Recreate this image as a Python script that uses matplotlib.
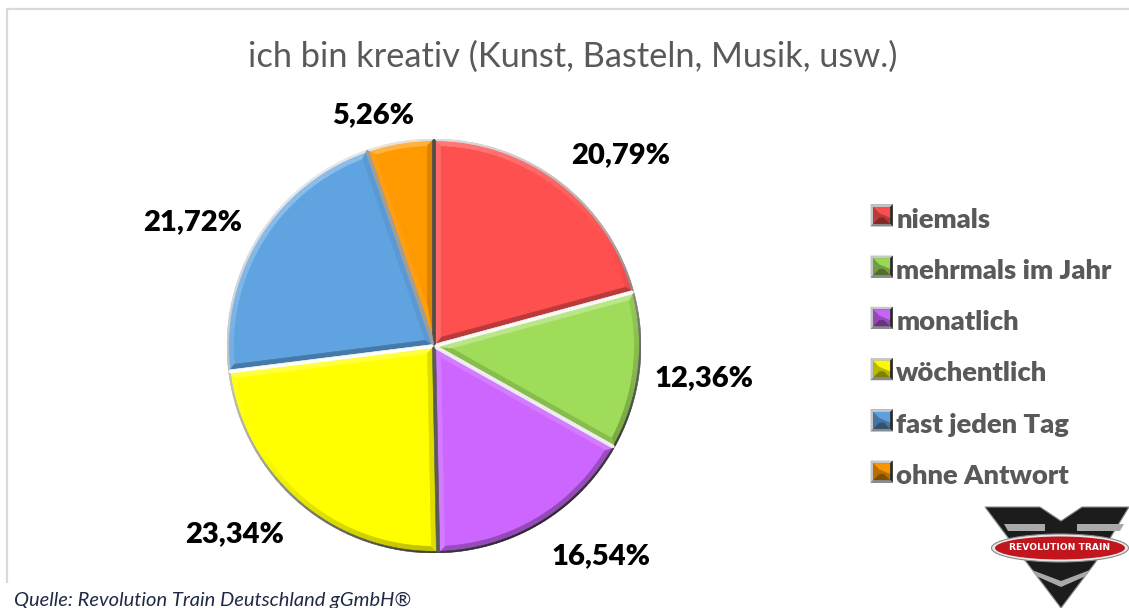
import math
import numpy as np
import matplotlib
matplotlib.use("Agg")
import matplotlib.pyplot as plt
from matplotlib.patches import Polygon, Ellipse
from matplotlib.legend_handler import HandlerBase
from matplotlib.colors import to_rgb

categories = ["niemals", "mehrmals im Jahr", "monatlich", "wöchentlich", "fast jeden Tag", "ohne Antwort"]
values = [20.79, 12.36, 16.54, 23.34, 21.72, 5.26]
value_labels = ["20,79%", "12,36%", "16,54%", "23,34%", "21,72%", "5,26%"]
colors = ["#FF5050", "#9FDC5A", "#CC66FF", "#FFFF00", "#5FA3E0", "#FF9900"]
title = "ich bin kreativ (Kunst, Basteln, Musik, usw.)"
source = "Quelle: Revolution Train Deutschland gGmbH®"

W, H = 1129, 608
label_pos = [(621, 155), (704, 378), (601, 556), (235, 534), (193, 222), (373, 115)]
CX, CY, R = 434, 346, 207
LIGHT = np.array([-0.5, 0.87])

plt.rcParams["font.family"] = ["Lato", "DejaVu Sans"]
fig = plt.figure(figsize=(W / 100, H / 100), dpi=100, facecolor="white")

bg = fig.add_axes([0, 0, 1, 1], zorder=0)
bg.set_xlim(0, W); bg.set_ylim(H, 0); bg.axis("off")
bg.plot([7, 7, W], [583, 9, 9], color="#D9D9D9", lw=1.6, solid_capstyle="butt")

ax = fig.add_axes([(CX - R) / W, (H - CY - R) / H, 2 * R / W, 2 * R / H], zorder=1)
wedges, _ = ax.pie(values, colors=colors, startangle=90, counterclock=False, radius=1,
                   wedgeprops=dict(linewidth=0))
ax.set_xlim(-1, 1); ax.set_ylim(-1, 1)
ax.set_aspect("equal")


def shade(col, n, k):
    s = float(np.dot(n, LIGHT)) * k
    c = np.array(to_rgb(col))
    return tuple(c + (1 - c) * s) if s > 0 else tuple(c * (1 + s))


def inset(t1, t2, w):
    half = math.radians(t2 - t1) / 2
    mid = math.radians(t1 + t2) / 2
    d = w / math.sin(half) if half < math.pi / 2 else w
    apex = np.array([math.cos(mid), math.sin(mid)]) * d
    delta = math.degrees(math.asin(min(w / (1 - w), .99)))
    angs = np.radians(np.linspace(t1 + delta, t2 - delta, 37))
    arc = np.c_[np.cos(angs), np.sin(angs)] * (1 - w)
    return apex, arc


def band(t1, t2, w0, w1, col, k_rad, k_arc, z, rim=False):
    a0, arc0 = inset(t1, t2, w0)
    a1, arc1 = inset(t1, t2, w1)
    for i in range(len(arc0) - 1):
        m = (arc0[i] + arc0[i + 1]) / 2
        n = m / np.linalg.norm(m)
        c = shade(col, n, k_arc)
        ax.add_patch(Polygon([arc0[i], arc0[i + 1], arc1[i + 1], arc1[i]], fc=c, ec=c, lw=0.4, zorder=z))
    for (p0, p1, ang) in ((arc0[0], arc1[0], t1 - 90), (arc0[-1], arc1[-1], t2 + 90)):
        n = np.array([math.cos(math.radians(ang)), math.sin(math.radians(ang))])
        if rim:
            g = 0.3 + 0.7 * abs(n[1]) ** 0.7
            c = (g, g, g)
        else:
            c = shade(col, n, k_rad)
        ax.add_patch(Polygon([a0, p0, p1, a1], fc=c, ec=c, lw=0.4, zorder=z))


for wedge, col in zip(wedges, colors):
    t1, t2 = wedge.theta1, wedge.theta2
    band(t1, t2, 0.008, 0.032, col, 0.28, 0.28, 4)
    band(t1, t2, 0.0, 0.008, "#A8A8A8", 0.95, 0.75, 5, rim=True)

top = fig.add_axes([0, 0, 1, 1], zorder=2)
top.set_xlim(0, W); top.set_ylim(H, 0); top.axis("off"); top.patch.set_alpha(0)

top.text(573, 57, title, ha="center", va="center", fontsize=24.75, color="#595959")
for (x, y), s in zip(label_pos, value_labels):
    top.text(x, y, s, ha="center", va="center", fontsize=21, fontweight=800, color="black")
top.text(14, 600, source, ha="left", va="center", fontsize=14.5, style="italic", color="#1F2A44")


class BevelHandler(HandlerBase):
    def create_artists(self, legend, orig, xd, yd, width, height, fontsize, trans):
        col = np.array(to_rgb(orig.get_facecolor()))
        s = 16.0
        x0 = (width - s) / 2
        y0 = (height - s) / 2
        def P(pts, c):
            return Polygon([(x0 + px * s, y0 + py * s) for px, py in pts], fc=c, ec="none", transform=trans)
        f = 0.12
        e = 0.28
        return [
            P([(0, 0), (1, 0), (1, 1), (0, 1)], "#9A9A9A"),
            P([(0, 0), (f, f), (f, 1 - f), (0, 1)], "#C4C4C4"),
            P([(0, 1), (1, 1), (1 - f, 1 - f), (f, 1 - f)], "#C8C8C8"),
            P([(1, 0), (1, 1), (1 - f, 1 - f), (1 - f, f)], "#2A2A2A"),
            P([(0, 0), (1, 0), (1 - f, f), (f, f)], "#8A8A8A"),
            P([(f, f), (1 - f, f), (1 - f, 1 - f), (f, 1 - f)], tuple(col * 0.72)),
            P([(f, 1 - f), (1 - f, 1 - f), (1 - f, f + e), (f + e, 1 - f - e)], tuple(col * 0.98)),
            P([(f, f), (1 - f, f), (1 - f - e, f + e), (f + e, f + e)], tuple(col * 0.5)),
        ]


leg = fig.legend(wedges, categories, loc="upper left", bbox_to_anchor=(867 / W, 1 - 206 / H),
                 bbox_transform=fig.transFigure, frameon=False, fontsize=19.7,
                 handler_map={type(wedges[0]): BevelHandler()}, handlelength=1.07, handleheight=1.0,
                 handletextpad=0.0, labelspacing=0.937, borderpad=0, borderaxespad=0)
leg.set_zorder(5)
for t in leg.get_texts():
    t.set_color("#595959"); t.set_fontweight(800)

K = "#1C1C1C"; G = "#A9A9A9"
top.add_patch(Polygon([(985, 507), (1040, 507), (1061, 521), (1082, 507), (1129, 507), (1095, 563), (1061, 608), (1027, 563)], fc=K, ec="#8A8A8A", lw=0.8))
top.add_patch(Polygon([(1004, 524), (1045, 524), (1045, 531), (1008, 531)], fc=G, ec="none"))
top.add_patch(Polygon([(1077, 524), (1124, 524), (1120, 531), (1077, 531)], fc=G, ec="none"))
top.add_patch(Polygon([(1032, 570), (1061, 581), (1090, 570), (1086, 576), (1061, 587), (1036, 576)], fc=G, ec="none"))
top.add_patch(Ellipse((1060, 548), 137, 28, fc="#E8E8E8", ec="#8A8A8A", lw=0.8))
top.add_patch(Ellipse((1060, 548), 130, 23, fc="#C2161E", ec="none"))
top.text(1060, 548, "REVOLUTION TRAIN", ha="center", va="center", fontsize=6.6, color="white",
         family=["DejaVu Sans"], fontweight="bold")

fig.savefig("out.png", dpi=100)
